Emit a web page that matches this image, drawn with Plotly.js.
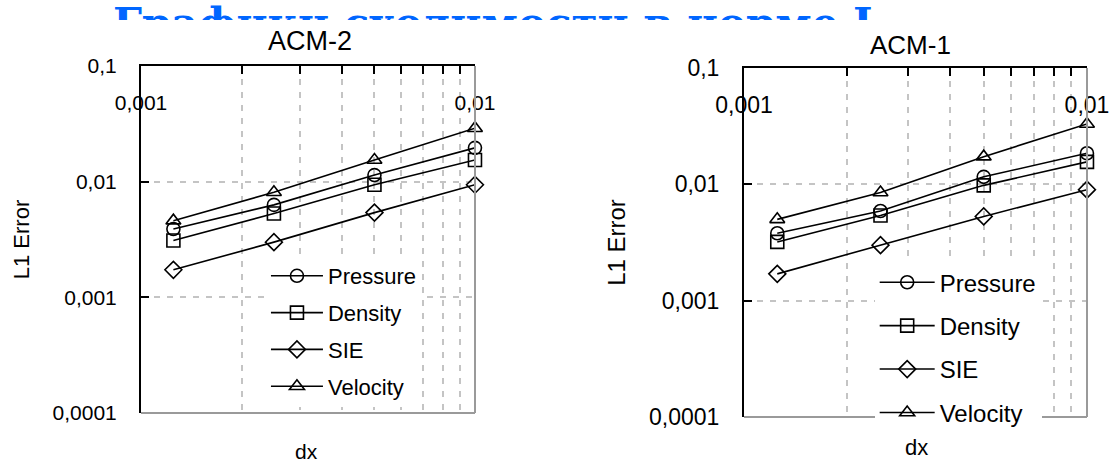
<!DOCTYPE html>
<html>
<head>
<meta charset="utf-8">
<script src="https://cdn.plot.ly/plotly-3.0.1.min.js"></script>
<style>
  html, body { margin: 0; padding: 0; background: #fff; }
  #chart { width: 1110px; height: 465px; }
</style>
</head>
<body>
<div id="chart"></div>
<script>
// Grid step sizes
const dx = [0.00125, 0.0025, 0.005, 0.01];

// L1 error, ACM-2 scheme
const acm2Pressure = [0.0039, 0.0063, 0.0114, 0.0196];
const acm2Density  = [0.0031, 0.0053, 0.0094, 0.0154];
const acm2SIE      = [0.00173, 0.0030, 0.0054, 0.0094];
const acm2Velocity = [0.0046, 0.0081, 0.0154, 0.0290];

// L1 error, ACM-1 scheme
const acm1Pressure = [0.0038, 0.0059, 0.0116, 0.0185];
const acm1Density  = [0.0032, 0.0054, 0.0098, 0.0156];
const acm1SIE      = [0.0017, 0.0030, 0.0053, 0.0090];
const acm1Velocity = [0.0050, 0.0085, 0.0173, 0.0330];

const seriesNames = ['Pressure', 'Density', 'SIE', 'Velocity'];
const panelTitles = ['ACM-2', 'ACM-1'];
const pageTitle = 'Графики сходимости в норме L';

const xTickVals = [0.001, 0.01];
const xTickText = ['0,001', '0,01'];
const yTickVals = [0.0001, 0.001, 0.01, 0.1];
const yTickText = ['0,0001', '0,001', '0,01', '0,1'];

const symbols = ['circle-open', 'square-open', 'diamond-open', 'triangle-up-open'];
const SANS = 'Liberation Sans, Arial, sans-serif';

const panels = [
  {series: [acm2Pressure, acm2Density, acm2SIE, acm2Velocity], xa: 'x', ya: 'y', legend: 'legend', key: 'L'},
  {series: [acm1Pressure, acm1Density, acm1SIE, acm1Velocity], xa: 'x2', ya: 'y2', legend: 'legend2', key: 'R'}
];

const traces = [];
panels.forEach(p => {
  p.series.forEach((vals, i) => {
    traces.push({
      type: 'scatter',
      mode: 'lines+markers',
      x: dx,
      y: vals,
      name: seriesNames[i],
      xaxis: p.xa,
      yaxis: p.ya,
      legend: p.legend,
      legendgroup: p.key + i,
      line: {color: '#000', width: 1.6},
      marker: {symbol: symbols[i], size: 13, color: '#000', line: {width: 1.6, color: '#000'}},
      cliponaxis: false,
      hoverinfo: 'x+y+name'
    });
  });
});

// Heading text, clipped by its own strip at the top of the page
traces.push({
  type: 'scatter',
  mode: 'text',
  x: [0],
  y: [0],
  text: [pageTitle],
  textposition: 'middle right',
  textfont: {family: 'DejaVu Serif, serif', size: 42, color: '#0066ff', weight: 'bold'},
  xaxis: 'x3',
  yaxis: 'y3',
  showlegend: false,
  hoverinfo: 'skip',
  cliponaxis: true
});

// Log x range padded by a hair so the end points at 0.001 / 0.01 keep their markers
const xRange = [-3.0001, -1.9999];

function xAxis(domain, anchor, fontSize) {
  return {
    type: 'log',
    domain: domain,
    anchor: anchor,
    range: xRange,
    side: 'top',
    showline: true,
    linecolor: '#000',
    linewidth: 2,
    mirror: false,
    ticks: 'inside',
    ticklen: 8,
    tickwidth: 1.5,
    tickcolor: '#000',
    tickmode: 'array',
    tickvals: xTickVals,
    ticktext: xTickText,
    ticklabelposition: 'inside',
    ticklabeloverflow: 'allow',
    ticklabelstandoff: 23,
    tickfont: {family: SANS, size: fontSize, color: '#000'},
    showgrid: true,
    gridcolor: '#c4c4c4',
    gridwidth: 1.5,
    griddash: '6px,7px',
    minor: {
      dtick: 'D1',
      ticks: 'inside',
      ticklen: 8,
      tickwidth: 1.5,
      tickcolor: '#000',
      showgrid: true,
      gridcolor: '#c4c4c4',
      gridwidth: 1.5,
      griddash: '6px,7px'
    },
    zeroline: false,
    fixedrange: true
  };
}

function yAxis(domain, anchor, fontSize, titleSize, standoff) {
  return {
    type: 'log',
    domain: domain,
    anchor: anchor,
    range: [-4, -1],
    showline: true,
    linecolor: '#000',
    linewidth: 2,
    mirror: false,
    ticks: 'inside',
    ticklen: 8,
    tickwidth: 2,
    tickcolor: '#000',
    tickmode: 'array',
    tickvals: yTickVals,
    ticktext: yTickText,
    ticklabelstandoff: 18,
    tickfont: {family: SANS, size: fontSize, color: '#000'},
    showgrid: true,
    gridcolor: '#c4c4c4',
    gridwidth: 1.5,
    griddash: '6px,7px',
    zeroline: false,
    fixedrange: true,
    title: {text: 'L1 Error', font: {family: SANS, size: titleSize, color: '#000'}, standoff: standoff}
  };
}

// Gray right and bottom frame edges
const frameShapes = [];
[['x', 'y'], ['x2', 'y2']].forEach(([xa, ya]) => {
  frameShapes.push({type: 'line', xref: xa + ' domain', yref: ya + ' domain', x0: 1, x1: 1, y0: 0, y1: 1,
    line: {color: '#9a9a9a', width: 2}});
  frameShapes.push({type: 'line', xref: xa + ' domain', yref: ya + ' domain', x0: 0, x1: 1, y0: 0, y1: 0,
    line: {color: '#9a9a9a', width: 2}});
});

const layout = {
  width: 1110,
  height: 465,
  margin: {l: 0, r: 0, t: 0, b: 0},
  paper_bgcolor: '#fff',
  plot_bgcolor: 'rgba(0,0,0,0)',
  font: {family: SANS, color: '#000'},
  showlegend: true,
  xaxis: xAxis([0.12703, 0.42793], 'y', 21),
  yaxis: yAxis([0.11183, 0.85806], 'x', 21, 22, 17),
  xaxis2: xAxis([0.67027, 0.97928], 'y2', 23),
  yaxis2: yAxis([0.10323, 0.85376], 'x2', 23, 24, 17),
  xaxis3: {domain: [0, 1], anchor: 'y3', range: [-113, 997], visible: false, fixedrange: true},
  yaxis3: {domain: [0.957, 1], anchor: 'x3', range: [7.2, 27.2], visible: false, fixedrange: true},
  legend: {
    x: 0.2396, y: 0.4516, xanchor: 'left', yanchor: 'top',
    bgcolor: '#fff', borderwidth: 0, itemwidth: 52, tracegroupgap: 5.2,
    font: {family: SANS, size: 22, color: '#000'},
    itemclick: false, itemdoubleclick: false
  },
  legend2: {
    x: 0.788, y: 0.4405, xanchor: 'left', yanchor: 'top',
    bgcolor: '#fff', borderwidth: 0, itemwidth: 55, tracegroupgap: 9.2,
    font: {family: SANS, size: 24, color: '#000'},
    itemclick: false, itemdoubleclick: false
  },
  shapes: frameShapes,
  annotations: [
    {text: panelTitles[0], xref: 'paper', yref: 'paper', x: 0.2793, y: 0.9118, xanchor: 'center', yanchor: 'middle',
     showarrow: false, font: {family: SANS, size: 27, color: '#000'}},
    {text: panelTitles[1], xref: 'paper', yref: 'paper', x: 0.8207, y: 0.9032, xanchor: 'center', yanchor: 'middle',
     showarrow: false, font: {family: SANS, size: 26, color: '#000'}},
    {text: 'dx', xref: 'paper', yref: 'paper', x: 0.2757, y: 0.0301, xanchor: 'center', yanchor: 'middle',
     showarrow: false, font: {family: SANS, size: 21, color: '#000'}},
    {text: 'dx', xref: 'paper', yref: 'paper', x: 0.8261, y: 0.0366, xanchor: 'center', yanchor: 'middle',
     showarrow: false, font: {family: SANS, size: 22, color: '#000'}}
  ]
};

Plotly.newPlot('chart', traces, layout, {displayModeBar: false, staticPlot: false, responsive: false});
</script>
</body>
</html>
